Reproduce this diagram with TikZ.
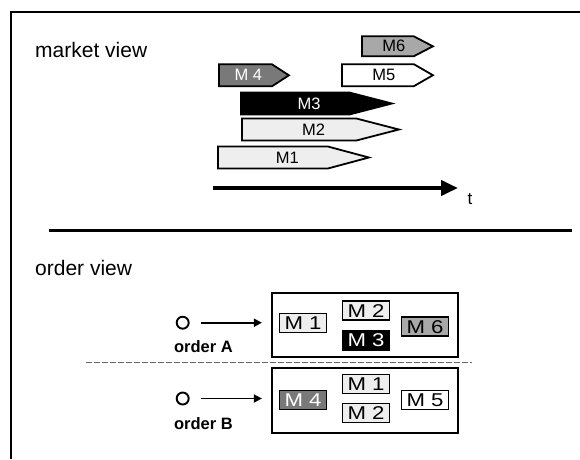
\documentclass[tikz,border=0pt]{standalone}
\usepackage{fontspec}
\usepackage{graphicx}
\setmainfont{Liberation Sans}
\usetikzlibrary{arrows.meta,positioning,shapes.symbols}
\definecolor{msglight}{HTML}{EEEEEE}
\definecolor{msgmid}{HTML}{A8A8A8}
\definecolor{msgdark}{HTML}{797979}
\newcommand{\wideM}[1]{\scalebox{1.2}[1]{#1}}

\begin{document}
\begin{tikzpicture}[x=1pt, y=-1pt,
    lbl/.style={font=\fontsize{21}{24}\selectfont, inner sep=0pt},
    olbl/.style={font=\bfseries\fontsize{16.5}{18}\selectfont, inner sep=0pt},
    msg/.style={draw, line width=1.8pt, signal, signal to=east, anchor=west,
                inner sep=0pt, minimum height=22pt, font=\fontsize{16.5}{18}\selectfont},
    nudge/.style={execute at begin node={\hspace*{#1}}},
    slot/.style={draw, line width=1.6pt, minimum width=47pt, minimum height=19pt,
                 inner sep=0pt, font=\fontsize{18.5}{19}\selectfont},
    tray/.style={draw, line width=2.2pt, minimum width=186pt, minimum height=64pt},
    dot/.style={circle, draw, line width=1.9pt, minimum size=12pt, inner sep=0pt},
    arr/.style={-{Triangle[length=8pt,width=8pt]}, line width=1.7pt}]
  \useasboundingbox (0,0) rectangle (580,459);
  \draw[line width=2.5pt] (11,459) -- (11,12) -- (580,12);

  \node[lbl, anchor=base west] (market) at (35,57.7) {market view};
  \node[msg, nudge=12pt, fill=msgmid, minimum width=71pt, minimum height=20pt, signal pointer angle=55] (m6) at (361,46.3) {M6};
  \node[msg, nudge=12pt, fill=white, minimum width=91pt, signal pointer angle=60] (m5) at (341,75.2) {M5};
  \node[msg, nudge=6pt, fill=msgdark, text=white, minimum width=70pt, signal pointer angle=66] (m4) at (218,75.3) {M 4};
  \node[msg, nudge=28pt, fill=black, text=white, minimum width=151pt, signal pointer angle=29] (m3) at (240,103.5) {M3};
  \node[msg, nudge=29pt, fill=msglight, minimum width=157pt, signal pointer angle=29] (m2) at (241,129.5) {M2};
  \node[msg, nudge=29pt, fill=msglight, minimum width=151pt, signal pointer angle=30] (m1) at (217,157.5) {M1};

  \coordinate (t0) at (213,188);
  \coordinate (t1) at (458,188);
  \draw[line width=4pt, -{Triangle[length=17pt,width=15pt]}] (t0) -- (t1);
  \node[font=\fontsize{17}{20}\selectfont, inner sep=0pt, anchor=base] (tname) at (470,204) {t};
  \draw[line width=3pt] (49,230) -- (572,230);

  \node[lbl, anchor=base west] (order) at (35,275) {order view};
  \node[tray] (boxA) at (365,324.7) {};
  \node[tray, minimum height=65pt] (boxB) at (365,400.8) {};
  \node[slot, fill=msglight] (a1) at (303,323) {\wideM{M 1}};
  \node[slot, fill=msglight] (a2) at (366,310.7) {\wideM{M 2}};
  \node[slot, fill=black, text=white] (a3) at (366,340.3) {\wideM{M 3}};
  \node[slot, fill=msgmid] (a6) at (425,326.7) {\wideM{M 6}};
  \node[slot, fill=msgdark, text=white] (b4) at (303,400) {\wideM{M 4}};
  \node[slot, fill=msglight] (b1) at (366,384) {\wideM{M 1}};
  \node[slot, fill=msglight] (b2) at (366,412.8) {\wideM{M 2}};
  \node[slot, fill=white] (b5) at (425,400) {\wideM{M 5}};

  \node[dot] (oA) at (182.7,322.7) {};
  \node[dot] (oB) at (182.7,398.5) {};
  \node[olbl] (nameA) at (203.4,347) {order A};
  \node[olbl] (nameB) at (203.4,423.7) {order B};
  \draw[arr, shorten <=11pt, shorten >=9pt] (oA) -- (oA -| boxA.west);
  \draw[arr, shorten <=11pt, shorten >=9pt] (oB) -- (oB -| boxB.west);
  \draw[black!60, line width=0.9pt, dash pattern=on 6pt off 2pt] (86,362) -- (472,362);
\end{tikzpicture}
\end{document}
